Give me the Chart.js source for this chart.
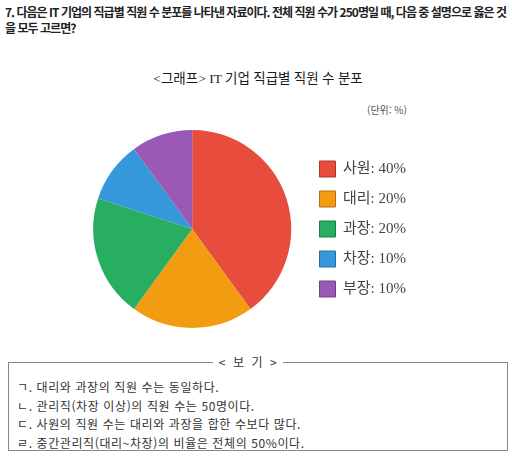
<!DOCTYPE html>
<html lang="ko">
<head>
<meta charset="utf-8">
<script src="https://cdn.jsdelivr.net/npm/chart.js@4.4.0/dist/chart.umd.min.js"></script>
<style>
    body {
        margin: 0;
        width: 512px;
        height: 458px;
        background: #fff;
        position: relative;
        overflow: hidden;
        font-family: "Noto Sans CJK KR", "Noto Sans", sans-serif;
    }
    .question {
        position: absolute;
        left: 5px;
        top: 4px;
        white-space: nowrap;
        font-size: 12px;
        font-weight: bold;
        line-height: 16px;
        letter-spacing: -0.97px;
        color: #222;
    }
    .graph-title {
        position: absolute;
        left: 0;
        width: 516px;
        top: 70px;
        text-align: center;
        font-family: "Liberation Serif", "Noto Sans CJK KR", serif;
        font-size: 13.5px;
        line-height: 18px;
        word-spacing: 0px;
        color: #1a1a1a;
    }
    .unit {
        position: absolute;
        left: 367px;
        top: 102px;
        font-size: 10px;
        line-height: 16px;
        color: #555;
    }
    #chartWrap {
        position: absolute;
        left: 0;
        top: 120px;
    }
    .bogi {
        position: absolute;
        left: 8px;
        top: 362px;
        width: 498px;
        height: 87px;
        border: 1px solid #888;
        color: #333;
        font-size: 12px;
        letter-spacing: 0.6px;
    }
    .bogi-head {
        position: absolute;
        left: 0;
        width: 478px;
        top: -9px;
        text-align: center;
        line-height: 16px;
    }
    .bogi-head span {
        background: #fff;
        padding: 0 6px;
        word-spacing: 3px;
    }
    .bogi-lines {
        position: absolute;
        left: 8px;
        top: 15px;
        line-height: 18.5px;
    }
</style>
</head>
<body>
<div class="question">7. 다음은 IT 기업의 직급별 직원 수 분포를 나타낸 자료이다. 전체 직원 수가 250명일 때, 다음 중 설명으로 옳은 것<br>을 모두 고르면?</div>
<div class="graph-title">&lt;그래프&gt; IT 기업 직급별 직원 수 분포</div>
<div class="unit">(단위: %)</div>
<div id="chartWrap"><canvas id="pieChart" width="512" height="220"></canvas></div>
<div class="bogi">
    <div class="bogi-head"><span>&lt; 보 기 &gt;</span></div>
    <div class="bogi-lines">
        ㄱ. 대리와 과장의 직원 수는 동일하다.<br>
        ㄴ. 관리직(차장 이상)의 직원 수는 50명이다.<br>
        ㄷ. 사원의 직원 수는 대리와 과장을 합한 수보다 많다.<br>
        ㄹ. 중간관리직(대리~차장)의 비율은 전체의 50%이다.
    </div>
</div>
<script>
var positions = ["사원", "대리", "과장", "차장", "부장"];
var shares = [40, 20, 20, 10, 10];
var sliceColors = ["#e74c3c", "#f39c12", "#27ae60", "#3498db", "#9b59b6"];
var boxEdges = ["#a8382c", "#b0720e", "#1d7f46", "#266f9f", "#6f4083"];

loadPieChart();

function loadPieChart() {
    var ctx = document.getElementById('pieChart').getContext('2d');
    var pieChart = new Chart(ctx, {
        type: 'pie',
        data: {
            labels: positions,
            datasets: [{
                data: shares,
                backgroundColor: sliceColors,
                borderWidth: 0
            }]
        },
        options: {
            responsive: false,
            animation: false,
            devicePixelRatio: 1,
            layout: {
                padding: { left: 79, right: 96, top: 10, bottom: 12 }
            },
            plugins: {
                tooltip: { enabled: false },
                title: { display: false },
                legend: {
                    position: 'right',
                    labels: {
                        boxWidth: 16,
                        boxHeight: 16,
                        padding: 14,
                        color: '#444',
                        font: { family: '"Liberation Serif", "Noto Sans CJK KR", serif', size: 15 },
                        // label text like "사원: 40%"
                        generateLabels: function (chart) {
                            return positions.map(function (name, i) {
                                return {
                                    text: name + ': ' + shares[i] + '%',
                                    fillStyle: sliceColors[i],
                                    strokeStyle: boxEdges[i],
                                    lineWidth: 1,
                                    fontColor: '#444',
                                    hidden: false,
                                    index: i
                                };
                            });
                        }
                    }
                }
            }
        }
    });
}
</script>
</body>
</html>
